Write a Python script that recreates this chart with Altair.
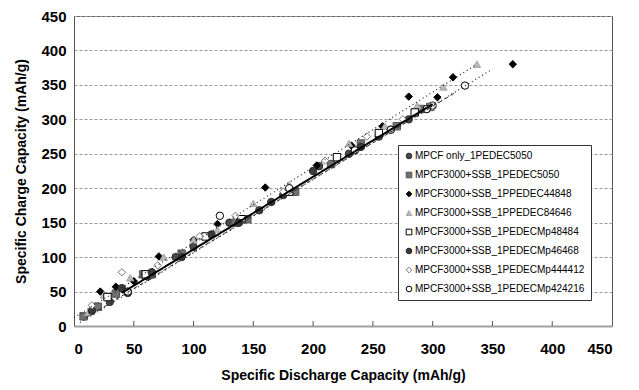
import altair as alt
import pandas as pd

series_names = [
    "MPCF only_1PEDEC5050",
    "MPCF3000+SSB_1PEDEC5050",
    "MPCF3000+SSB_1PPEDEC44848",
    "MPCF3000+SSB_1PPEDEC84646",
    "MPCF3000+SSB_1PEDECMp48484",
    "MPCF3000+SSB_1PEDECMp46468",
    "MPCF3000+SSB_1PEDECMp444412",
    "MPCF3000+SSB_1PEDECMp424216",
]

s1_x = [18, 30, 45, 62, 85, 100, 130, 155, 175, 205, 230, 255, 280, 300]
s1_y = [28, 35, 48, 72, 100, 115, 150, 168, 190, 232, 250, 275, 300, 320]
s2_x = [8, 20, 35, 58, 65, 90, 135, 145, 185, 215, 240, 270, 290, 298]
s2_y = [14, 28, 47, 75, 75, 105, 150, 155, 195, 235, 265, 290, 315, 318]
s3_x = [22, 35, 50, 71, 100, 120, 160, 203, 232, 258, 280, 304, 317, 367]
s3_y = [50, 57, 65, 101, 125, 148, 201, 233, 262, 290, 333, 332, 361, 380]
s4_x = [12, 25, 47, 75, 100, 120, 150, 180, 230, 260, 287, 309, 337]
s4_y = [20, 45, 70, 100, 125, 140, 178, 205, 265, 290, 320, 347, 380]
s5_x = [28, 60, 110, 140, 180, 220, 255, 285]
s5_y = [42, 75, 130, 155, 195, 245, 280, 310]
s6_x = [15, 40, 65, 90, 115, 138, 165, 200, 240, 265, 295]
s6_y = [22, 55, 78, 100, 133, 150, 180, 225, 260, 285, 315]
s7_x = [15, 40, 70, 105, 135, 175, 210, 245, 275, 300]
s7_y = [30, 78, 88, 130, 160, 195, 240, 275, 300, 320]
s8_x = [45, 122, 180, 235, 265, 295, 327]
s8_y = [50, 160, 200, 255, 285, 315, 349]

xs = [s1_x, s2_x, s3_x, s4_x, s5_x, s6_x, s7_x, s8_x]
ys = [s1_y, s2_y, s3_y, s4_y, s5_y, s6_y, s7_y, s8_y]

shapes = ["circle", "square", "diamond", "triangle-up", "square", "circle", "diamond", "circle"]
fills = ["#4a4a4a", "#707070", "#000000", "#b8b8b8", "#ffffff", "#3a3a3a", "#ffffff", "#ffffff"]
strokes = ["#2a2a2a", "#555555", "#000000", "#a8a8a8", "#000000", "#2a2a2a", "#777777", "#000000"]

# trend lines: (name, x start, y start, x end, y end)
line_names = ["solid", "dotted_up", "dotted_low", "dashed"]
line_x0 = [40, 0, 5, 10]
line_y0 = [48, 12, 5, 12]
line_x1 = [300, 337, 350, 320]
line_y1 = [322, 380, 373, 340]

x_ticks = [0, 50, 100, 150, 200, 250, 300, 350, 400, 450]
y_ticks = [0, 50, 100, 150, 200, 250, 300, 350, 400, 450]

rows = []
for name, xv, yv in zip(series_names, xs, ys):
    for a, b in zip(xv, yv):
        rows.append({"series": name, "x": a, "y": b})
df = pd.DataFrame(rows)

lrows = []
for n, a0, b0, a1, b1 in zip(line_names, line_x0, line_y0, line_x1, line_y1):
    lrows.append({"line": n, "x": a0, "y": b0, "o": 0})
    lrows.append({"line": n, "x": a1, "y": b1, "o": 1})
ldf = pd.DataFrame(lrows)

xscale = alt.Scale(domain=[0, 450], nice=False)
yscale = alt.Scale(domain=[0, 450], nice=False)

x_axis = alt.Axis(
    values=x_ticks, title="Specific Discharge Capacity (mAh/g)", grid=False,
    ticks=False, labelPadding=15, titlePadding=12, labelOverlap=False,
    domainColor="#a0a0a0", domainWidth=2)
y_axis = alt.Axis(
    values=y_ticks, labelOverlap=False,
    title="Specific Charge Capacity (mAh/g)", ticks=False, domain=False,
    labelPadding=8, titlePadding=12, grid=True, gridDash=[3, 2],
    gridColor="#9a9a9a")

points = alt.Chart(df).mark_point(size=55, strokeWidth=1, opacity=1).encode(
    x=alt.X("x:Q", scale=xscale, axis=x_axis),
    y=alt.Y("y:Q", scale=yscale, axis=y_axis),
    shape=alt.Shape("series:N", scale=alt.Scale(domain=series_names, range=shapes),
                    legend=alt.Legend(title=None)),
    fill=alt.Fill("series:N", scale=alt.Scale(domain=series_names, range=fills),
                  legend=alt.Legend(title=None)),
    stroke=alt.Stroke("series:N", scale=alt.Scale(domain=series_names, range=strokes),
                      legend=alt.Legend(title=None)),
)

def line_layer(name, dash, width, color):
    return alt.Chart(ldf[ldf["line"] == name]).mark_line(
        strokeDash=dash, strokeWidth=width, color=color).encode(
        x=alt.X("x:Q", scale=xscale, axis=x_axis),
        y=alt.Y("y:Q", scale=yscale, axis=y_axis), order="o:Q")

solid = line_layer("solid", [1, 0], 2, "#000000")
dot_up = line_layer("dotted_up", [1, 3], 1.2, "#222222")
dot_low = line_layer("dotted_low", [1, 3], 1.2, "#222222")
dashed = line_layer("dashed", [4, 3], 1, "#333333")

tick_df = pd.DataFrame({"x": x_ticks[1:-1]})
ticks = alt.Chart(tick_df).mark_rule(color="#555555", strokeWidth=1).encode(
    x=alt.X("x:Q", scale=xscale, axis=x_axis), y=alt.value(305), y2=alt.value(310))

chart = alt.layer(points, dot_up, dot_low, dashed, solid, ticks).properties(
    width=538, height=310,
    autosize=alt.AutoSizeParams(type="none"),
    padding={"left": 66, "top": 8, "right": 10, "bottom": 60},
).configure_view(
    stroke="#555555", strokeWidth=1
).configure_axis(
    labelFont="Liberation Sans", labelFontSize=15, labelFontWeight="bold",
    labelColor="#000000", titleFont="Liberation Sans", titleFontSize=14,
    titleFontWeight="bold", titleColor="#000000",
).configure_legend(
    orient="none", legendX=324, legendY=129,
    strokeColor="#333333", fillColor="#ffffff", padding=6,
    labelFont="Liberation Sans", labelFontSize=10, labelColor="#000000",
    rowPadding=9, symbolSize=32, labelLimit=300, labelOffset=1,
    symbolStrokeWidth=1,
)

chart.save("out.html", embed_options={"renderer": "svg", "actions": False})
